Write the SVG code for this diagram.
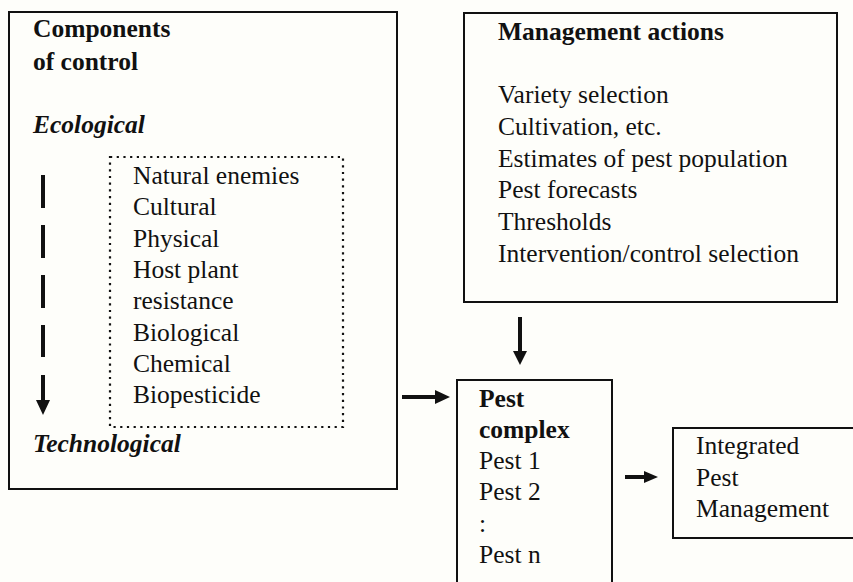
<svg xmlns="http://www.w3.org/2000/svg" width="853" height="582" viewBox="0 0 853 582">
<defs>
<style>
.t{font-family:"Liberation Serif","Times New Roman",serif;font-size:25.5px;fill:#111}
.b{font-weight:bold}
.i{font-style:italic;font-weight:bold}
.box{fill:none;stroke:#111;stroke-width:2}
.dot{fill:none;stroke:#111;stroke-width:2.2;stroke-dasharray:2.2 4.5}
.ln{stroke:#111;stroke-width:4;fill:none}
</style>
</defs>
<rect width="853" height="582" fill="#fefefa"/>
<g id="components">
<rect class="box" x="9" y="12" width="388" height="477"/>
<text class="t b" x="33" y="37">Components</text>
<text class="t b" x="33" y="70">of control</text>
<text class="t i" x="33" y="133">Ecological</text>
<text class="t i" x="33" y="452">Technological</text>
<rect class="dot" x="110" y="157" width="233" height="270"/>
<text class="t" x="133" y="184">Natural enemies</text>
<text class="t" x="133" y="215">Cultural</text>
<text class="t" x="133" y="247">Physical</text>
<text class="t" x="133" y="278">Host plant</text>
<text class="t" x="133" y="309">resistance</text>
<text class="t" x="133" y="341">Biological</text>
<text class="t" x="133" y="372">Chemical</text>
<text class="t" x="133" y="403">Biopesticide</text>
<g id="scale-arrow">
<line class="ln" x1="43" y1="175" x2="43" y2="208"/>
<line class="ln" x1="43" y1="225" x2="43" y2="258"/>
<line class="ln" x1="43" y1="275" x2="43" y2="308"/>
<line class="ln" x1="43" y1="325" x2="43" y2="357"/>
<line class="ln" x1="43" y1="375" x2="43" y2="402"/>
<path d="M36,400 L50,400 L43,415 Z" fill="#111"/>
</g>
</g>
<g id="management">
<rect class="box" x="464" y="13" width="373" height="289"/>
<text class="t b" x="498" y="40">Management actions</text>
<text class="t" x="498" y="103">Variety selection</text>
<text class="t" x="498" y="135">Cultivation, etc.</text>
<text class="t" x="498" y="167">Estimates of pest population</text>
<text class="t" x="498" y="198">Pest forecasts</text>
<text class="t" x="498" y="230">Thresholds</text>
<text class="t" x="498" y="262">Intervention/control selection</text>
</g>
<g id="pest-complex">
<rect class="box" x="457" y="380" width="155" height="215"/>
<text class="t b" x="479" y="407">Pest</text>
<text class="t b" x="479" y="438">complex</text>
<text class="t" x="479" y="469">Pest 1</text>
<text class="t" x="479" y="500">Pest 2</text>
<text class="t" x="479" y="532">:</text>
<text class="t" x="479" y="563">Pest n</text>
</g>
<g id="ipm">
<rect class="box" x="673" y="428" width="190" height="110"/>
<text class="t" x="696" y="454">Integrated</text>
<text class="t" x="696" y="486">Pest</text>
<text class="t" x="696" y="517">Management</text>
</g>
<g id="connectors">
<line class="ln" x1="520" y1="317" x2="520" y2="353"/>
<path d="M513,351 L527,351 L520,365 Z" fill="#111"/>
<line class="ln" x1="402" y1="397" x2="437" y2="397"/>
<path d="M435,390 L435,404 L450,397 Z" fill="#111"/>
<line class="ln" x1="625" y1="477" x2="646" y2="477"/>
<path d="M644,471 L644,483 L658,477 Z" fill="#111"/>
</g>
</svg>
